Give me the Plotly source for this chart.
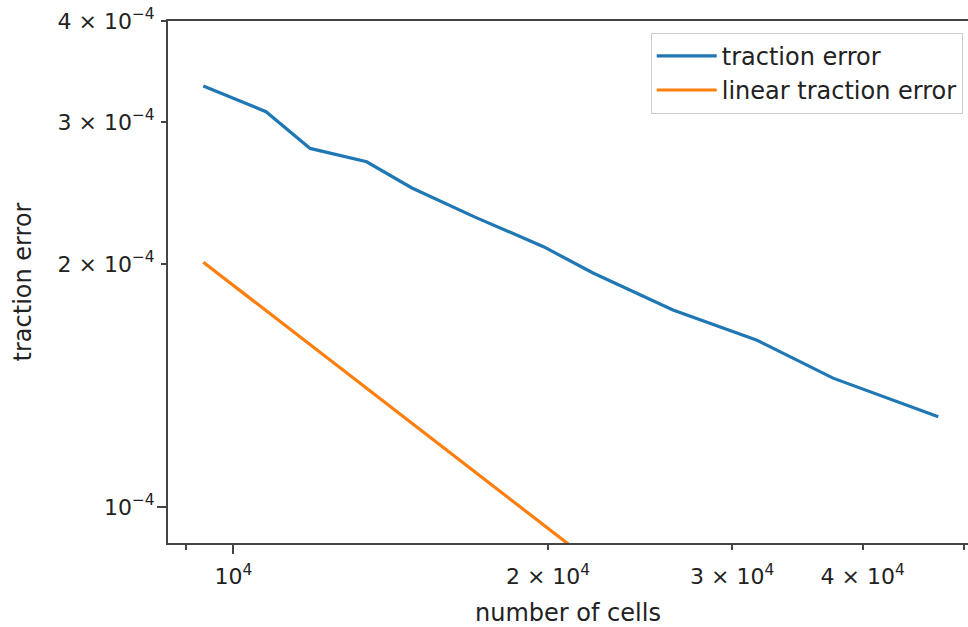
import plotly.graph_objects as go

# data
cells = [9360, 10747, 11843, 13414, 14821, 17029, 19802, 22087, 26338, 31696, 37474, 47246]
traction_error = [3.323e-4, 3.088e-4, 2.781e-4, 2.677e-4, 2.484e-4, 2.286e-4,
                  2.101e-4, 1.949e-4, 1.754e-4, 1.609e-4, 1.444e-4, 1.293e-4]
linear_traction_error = [2.010e-4, 1.751e-4, 1.589e-4, 1.403e-4, 1.269e-4, 1.105e-4,
                         0.950e-4, 0.852e-4, 0.714e-4, 0.594e-4, 0.502e-4, 0.398e-4]

x_tickvals = [9e3, 1e4, 2e4, 3e4, 4e4, 5e4]
x_ticktext = ["", "10<sup>4</sup>", "2 × 10<sup>4</sup>", "3 × 10<sup>4</sup>", "4 × 10<sup>4</sup>", ""]
y_tickvals = [1e-4, 2e-4, 3e-4, 4e-4]
y_ticktext = ["10<sup>−4</sup>", "2 × 10<sup>−4</sup>", "3 × 10<sup>−4</sup>", "4 × 10<sup>−4</sup>"]

FONT = "DejaVu Sans"
TXT = "#222222"
AX = "#444444"

fig = go.Figure()
fig.add_trace(go.Scatter(x=cells, y=traction_error, mode="lines", name="traction error",
                         line=dict(color="#1f77b4", width=3.2), legendgroup="a"))
fig.add_trace(go.Scatter(x=cells, y=linear_traction_error, mode="lines", name="linear traction error",
                         line=dict(color="#ff7f0e", width=3.2), legendgroup="b"))

fig.update_layout(
    width=968, height=627,
    margin=dict(l=168, r=0, t=21, b=84),
    paper_bgcolor="white", plot_bgcolor="white",
    font=dict(family=FONT, size=24, color=TXT),
    showlegend=True,
    legend=dict(x=0.9934, y=0.9776, xanchor="right", yanchor="top",
                bgcolor="white", bordercolor="#cccccc", borderwidth=1,
                font=dict(family=FONT, size=24, color=TXT),
                tracegroupgap=0, itemwidth=60),
)

fig.update_xaxes(
    type="log", range=[3.9375, 4.7028],
    tickmode="array", tickvals=x_tickvals, ticktext=x_ticktext,
    ticks="outside", ticklen=5, tickwidth=1.6, tickcolor=AX,
    showline=True, linecolor=AX, linewidth=2, mirror=True,
    showgrid=False, zeroline=False,
    tickfont=dict(family=FONT, size=22, color=TXT),
    ticklabelstandoff=8,
    minor=dict(tickmode="array", tickvals=[1e4], ticklen=9, tickwidth=1.6, tickcolor=AX, ticks="outside"),
    title=dict(text="number of cells", font=dict(family=FONT, size=24, color=TXT), standoff=19),
)
fig.update_yaxes(
    type="log", range=[-4.0447, -3.39794],
    tickmode="array", tickvals=y_tickvals, ticktext=y_ticktext,
    ticks="outside", ticklen=5, tickwidth=1.6, tickcolor=AX,
    showline=True, linecolor=AX, linewidth=2, mirror=False,
    showgrid=False, zeroline=False,
    tickfont=dict(family=FONT, size=22, color=TXT),
    ticklabelstandoff=2,
    minor=dict(tickmode="array", tickvals=[1e-4], ticklen=9, tickwidth=1.6, tickcolor=AX, ticks="outside"),
    title=dict(text="traction error", font=dict(family=FONT, size=24, color=TXT), standoff=19),
)

fig.write_html("out.html")
